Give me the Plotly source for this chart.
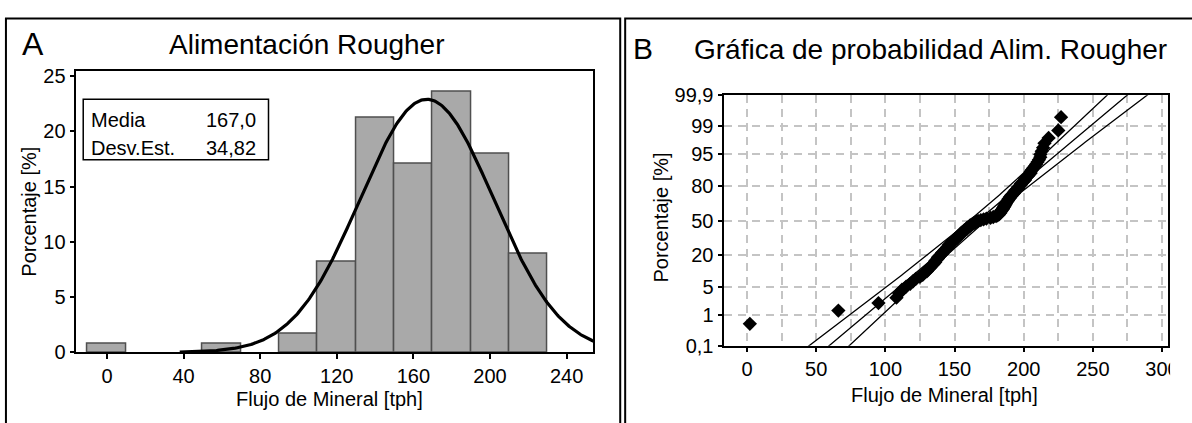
import numpy as np
import plotly.graph_objects as go
from statistics import NormalDist

W, H = 1192, 423
def px(x): return x / W
def py(y): return 1 - y / H

FONT = "Liberation Sans, Arial, sans-serif"

# ---------------- Panel A data ----------------
hist_centers = [0, 60, 100, 120, 140, 160, 180, 200, 220]
hist_pct = [0.8, 0.8, 1.7, 8.2, 21.2, 17.1, 23.6, 18.0, 8.9]
bin_width = 20
mean_tph = 167.0
sd_tph = 34.82
n_obs = 130
xticks_a = [0, 40, 80, 120, 160, 200, 240]
yticks_a = [0, 5, 10, 15, 20, 25]

# ---------------- Panel B data ----------------
flow_sorted = [
    2, 66, 95, 108, 110, 112, 115, 118, 120, 122,
    125, 127, 128, 130, 131, 132, 133, 134, 135, 136,
    136, 137, 138, 138, 139, 140, 141, 141, 142, 143,
    143, 144, 145, 145, 146, 146, 147, 148, 148, 149,
    150, 150, 151, 152, 152, 153, 154, 154, 155, 155,
    156, 157, 157, 158, 159, 159, 160, 161, 161, 162,
    163, 164, 165, 166, 167, 169, 171, 173, 176, 178,
    180, 181, 182, 182, 183, 183, 183.5, 184, 184, 185,
    185, 185.5, 186, 186, 186.5, 187, 187, 187.5, 188, 188.5,
    189, 189, 190, 190, 191, 191, 192, 193, 193, 194,
    194, 195, 196, 196, 197, 198, 198, 199, 200, 201,
    201, 202, 203, 204, 205, 205, 206, 207, 208, 209,
    210, 211, 212, 212, 213, 214, 215, 218, 225, 227,
]
prob_ticks = [0.1, 1, 5, 20, 50, 80, 95, 99, 99.9]
prob_labels = ["0,1", "1", "5", "20", "50", "80", "95", "99", "99,9"]
xticks_b = [0, 50, 100, 150, 200, 250, 300]

nd = NormalDist()

fig = go.Figure()

# ---- Panel A: histogram + fitted normal ----
fig.add_trace(go.Bar(
    x=hist_centers, y=hist_pct, width=bin_width,
    marker=dict(color="#A9A9A9", line=dict(color="#4F4F4F", width=1.5)),
    xaxis="x", yaxis="y", showlegend=False, hoverinfo="skip"))

xs = np.linspace(38, 256, 400)
fitted = NormalDist(mean_tph, sd_tph)
ys = [fitted.pdf(v) * bin_width * 100 for v in xs]
fig.add_trace(go.Scatter(
    x=xs, y=ys, mode="lines", line=dict(color="black", width=3.2),
    xaxis="x", yaxis="y", showlegend=False, hoverinfo="skip"))

# ---- Panel B: normal probability plot ----
n = len(flow_sorted)
z_pts = [nd.inv_cdf((i + 1 - 0.3) / (n + 0.4)) for i in range(n)]
zz = np.linspace(-3.4, 3.4, 200)
fit_x = mean_tph + zz * sd_tph
hw = 1.96 * sd_tph * np.sqrt(1.0 / n_obs + zz ** 2 / (2.0 * n_obs))
for line_x in (fit_x - hw, fit_x, fit_x + hw):
    fig.add_trace(go.Scatter(
        x=line_x, y=zz, mode="lines", line=dict(color="black", width=1.3),
        xaxis="x2", yaxis="y2", showlegend=False, hoverinfo="skip"))

fig.add_trace(go.Scatter(
    x=flow_sorted, y=z_pts, mode="markers",
    marker=dict(symbol="diamond", size=11, color="black", line=dict(width=0)),
    xaxis="x2", yaxis="y2", showlegend=False, hoverinfo="skip"))

z_ticks = [nd.inv_cdf(p / 100.0) for p in prob_ticks]
z_lo = nd.inv_cdf(0.001)
z_hi = nd.inv_cdf(0.999)

axis_common = dict(showline=True, linecolor="black", linewidth=1.5, mirror=True,
                   ticks="outside", ticklen=5, tickwidth=1.5, tickcolor="black",
                   zeroline=False,
                   tickfont=dict(family=FONT, size=20, color="black"))
grid_style = dict(showgrid=True, gridcolor="#C4C4C4", gridwidth=2, griddash="8px,6px")

fig.update_layout(
    width=W, height=H,
    margin=dict(l=0, r=0, t=0, b=0),
    paper_bgcolor="white", plot_bgcolor="white",
    font=dict(family=FONT, color="black"),
    bargap=0,
    xaxis=dict(domain=[px(77), px(599)], range=[-16, 254], tickvals=xticks_a,
               showgrid=False, anchor="y", **axis_common),
    yaxis=dict(domain=[py(360), py(63)], range=[0, 25.5], tickvals=yticks_a,
               showgrid=False, anchor="x", **axis_common),
    xaxis2=dict(domain=[px(731), px(1179)], range=[-16.5, 304.4], tickvals=xticks_b,
                anchor="y2", minor=dict(dtick=25, tick0=0, showgrid=True,
                                        gridcolor="#C4C4C4", gridwidth=2, griddash="8px,6px"),
                **grid_style, **axis_common),
    yaxis2=dict(domain=[py(353), py(89)], range=[z_lo, z_hi], tickvals=z_ticks,
                ticktext=prob_labels, anchor="x2", **grid_style, **axis_common),
)

shapes = [
    # panel frames
    dict(type="rect", xref="paper", yref="paper", x0=px(6), x1=px(626), y0=-0.2, y1=py(8),
         line=dict(color="black", width=2), fillcolor="rgba(0,0,0,0)", layer="above"),
    dict(type="rect", xref="paper", yref="paper", x0=px(631), x1=1.2, y0=-0.2, y1=py(8),
         line=dict(color="black", width=2), fillcolor="rgba(0,0,0,0)", layer="above"),
    # statistics box
    dict(type="rect", xref="paper", yref="paper", x0=px(84), x1=px(271), y0=py(157), y1=py(93),
         line=dict(color="black", width=1.5), fillcolor="white", layer="above"),
    # right edge of the original picture is cut off
    dict(type="rect", xref="paper", yref="paper", x0=px(1181), x1=1.0, y0=0, y1=py(60),
         line=dict(width=0), fillcolor="white", layer="above"),
]
fig.update_layout(shapes=shapes)

def ann(text, x, y, size, xanchor="center", yanchor="middle", angle=0):
    fig.add_annotation(text=text, x=px(x), y=py(y), xref="paper", yref="paper",
                       showarrow=False, xanchor=xanchor, yanchor=yanchor, textangle=angle,
                       font=dict(family=FONT, size=size, color="black"))

ann("A", 33, 35, 32)
ann("Alimentación Rougher", 310, 35, 28)
ann("Porcentaje [%]", 29, 212, 20, angle=-90)
ann("Flujo de Mineral [tph]", 333, 409, 20)
ann("Media", 90, 115, 20, xanchor="left")
ann("167,0", 260, 115, 20, xanchor="right")
ann("Desv.Est.", 90, 144, 20, xanchor="left")
ann("34,82", 260, 144, 20, xanchor="right")

ann("B", 649, 40, 30)
ann("Gráfica de probabilidad Alim. Rougher", 698, 41, 28, xanchor="left")
ann("Porcentaje [%]", 667, 218, 20, angle=-90)
ann("Flujo de Mineral [tph]", 953, 405, 20)

fig.write_html("out.html", post_script="document.body.style.margin='0px';",
               config={"displayModeBar": False})
